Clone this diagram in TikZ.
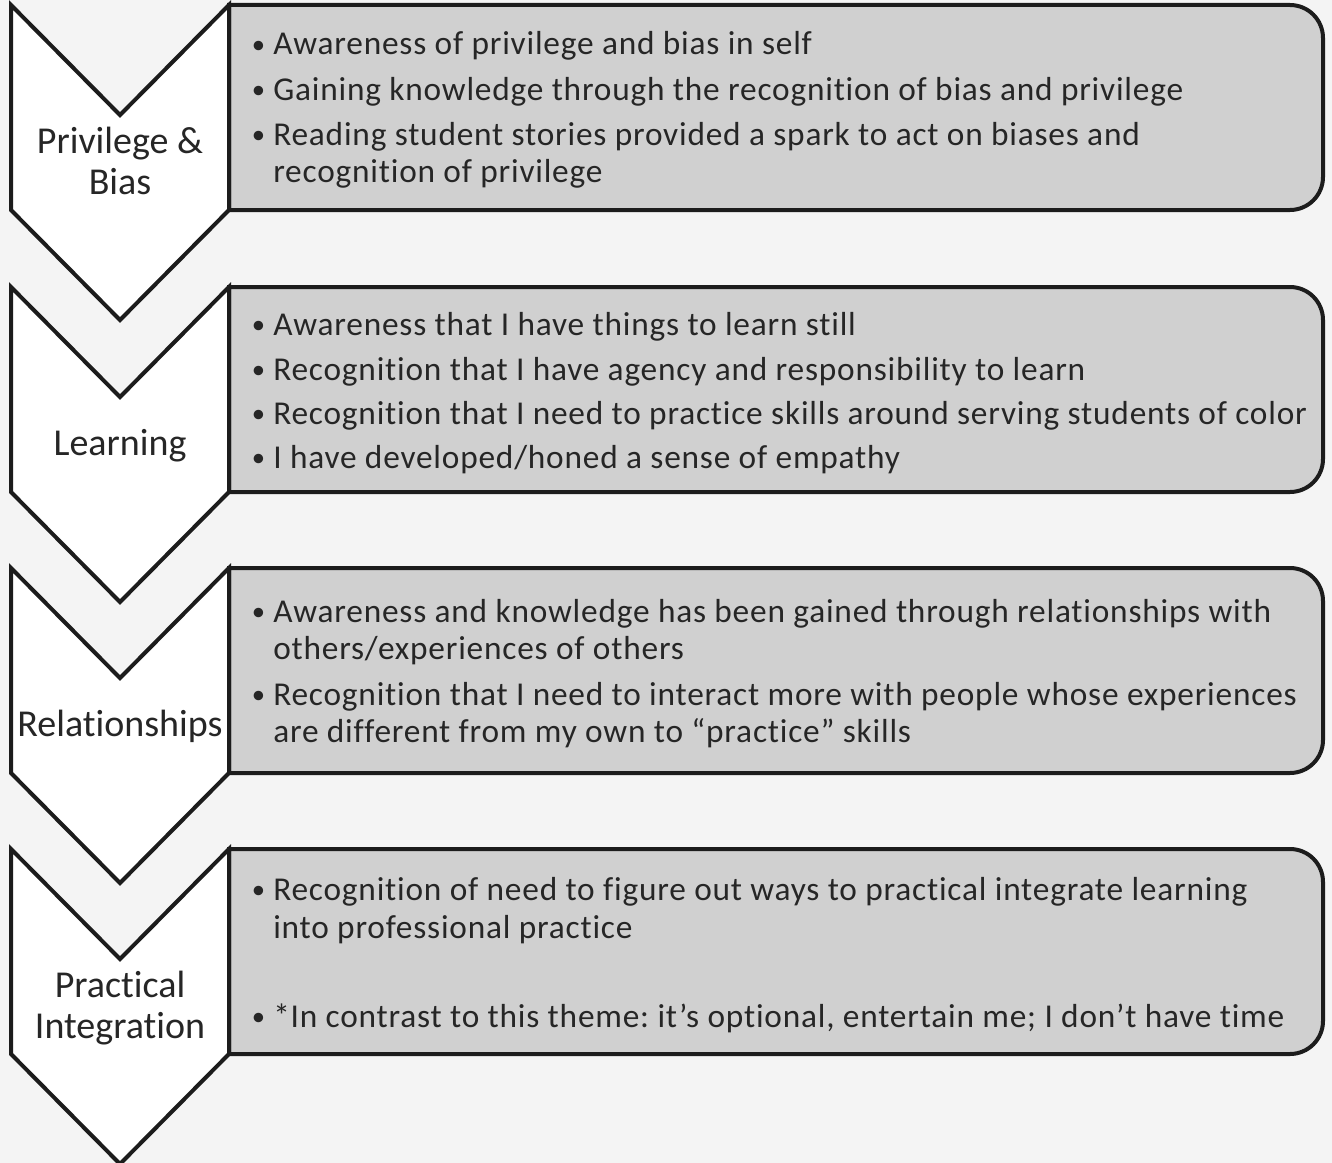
\documentclass[tikz,border=0pt]{standalone}
\usepackage{fontspec}
\setmainfont[Ligatures=NoCommon]{Carlito}
\newfontfamily\bodyfont[Ligatures=NoCommon, LetterSpace=2.4]{Carlito}
\frenchspacing
\definecolor{bg}{HTML}{F4F4F4}
\definecolor{boxfill}{HTML}{D0D0D0}
\definecolor{edge}{HTML}{1C1C1C}
\definecolor{txt}{HTML}{262626}
\tikzset{
  chev/.style={draw=edge, line width=3pt, fill=white, line join=miter},
  panel/.style={draw=edge, line width=3pt, fill=boxfill},
  lbl/.style={font=\fontsize{28.5}{32}\selectfont, text=txt, align=center, inner sep=0},
  item/.style={font=\bodyfont\fontsize{25}{29}\selectfont, text=txt, anchor=base west, inner sep=0},
}
\newcommand{\bul}{\llap{\raisebox{1pt}{\fontsize{20}{20}\selectfont•}\hskip 6pt}}
\begin{document}
\frenchspacing
\begin{tikzpicture}[x=0.75pt, y=-0.75pt]
\useasboundingbox (0,0) rectangle (1332,1163);
\fill[bg] (0,0) rectangle (1332,1163);
% panels and chevrons
\foreach \t in {5,287,568,849}{
  \draw[panel] (229,\t) -- (1290,\t) arc[start angle=-90, end angle=0, radius=33]
    -- (1323,\t+172) arc[start angle=0, end angle=90, radius=33] -- (229,\t+205) -- cycle;
  \draw[chev] (11,\t) -- (120,\t+110) -- (229,\t) -- (229,\t+205) -- (120,\t+315) -- (11,\t+205) -- cycle;
}
% chevron labels
\node[lbl, anchor=base] (l1a) at (120,153) {Privilege \&};
\node[lbl, anchor=base] (l1b) at (120,194) {Bias};
\node[lbl, anchor=base] (l2) at (120,455) {Learning};
\node[lbl, anchor=base] (l3) at (120,736) {Relationships};
\node[lbl, anchor=base] (l4a) at (120,997) {Practical};
\node[lbl, anchor=base] (l4b) at (120,1038) {Integration};
% panel 1
\node[item] (p1a) at (273,55) {\bul Awareness of privilege and bias in self};
\node[item] (p1b) at (273,100) {\bul Gaining knowledge through the recognition of bias and privilege};
\node[item] (p1c) at (273,145) {\bul Reading student stories provided a spark to act on biases and};
\node[item] (p1d) at (273,182) {recognition of privilege};
% panel 2
\node[item] (p2a) at (273,335) {\bul Awareness that I have things to learn still};
\node[item] (p2b) at (273,380) {\bul Recognition that I have agency and responsibility to learn};
\node[item] (p2c) at (273,424) {\bul Recognition that I need to practice skills around serving students of color};
\node[item] (p2d) at (273,468) {\bul I have developed/honed a sense of empathy};
% panel 3
\node[item] (p3a) at (273,622) {\bul Awareness and knowledge has been gained through relationships with};
\node[item] (p3b) at (273,659) {others/experiences of others};
\node[item] (p3c) at (273,705) {\bul Recognition that I need to interact more with people whose experiences};
\node[item] (p3d) at (273,742) {are different from my own to “practice” skills};
% panel 4
\node[item] (p4a) at (273,900) {\bul Recognition of need to figure out ways to practical integrate learning};
\node[item] (p4b) at (273,938) {into professional practice};
\node[item] (p4c) at (273,1027) {\bul *In contrast to this theme: it’s optional, entertain me; I don’t have time};
\end{tikzpicture}
\end{document}
